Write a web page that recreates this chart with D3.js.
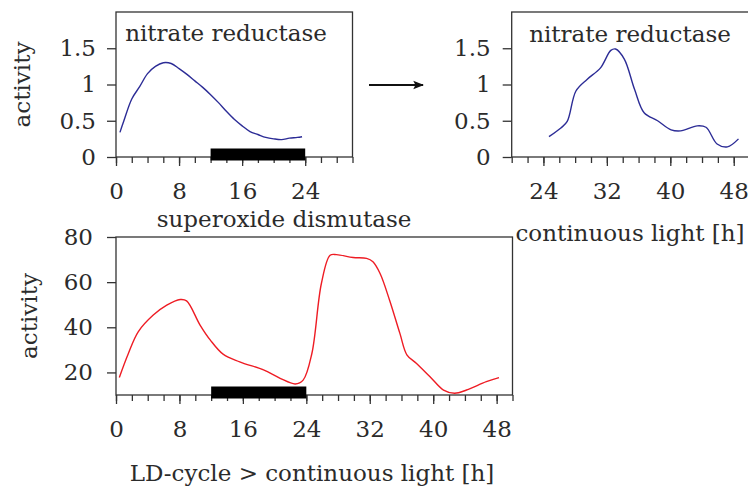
<!DOCTYPE html>
<html>
<head>
<meta charset="utf-8">
<script src="https://cdn.jsdelivr.net/npm/d3@7"></script>
<style>
body{margin:0;background:#fff;}
text{font-family:"DejaVu Serif",serif;}
</style>
</head>
<body>
<svg id="chart" width="748" height="490"></svg>
<script>
// nitrate reductase, LD-cycle (0-24 h)
var nrHours  = [0.5, 1, 2, 3, 4, 5, 6, 7, 8, 9, 10, 11, 12, 13, 14, 15, 16, 17, 18, 19, 20, 21, 22, 23, 23.6];
var nrValues = [0.34, 0.5, 0.8, 0.97, 1.15, 1.25, 1.3, 1.29, 1.22, 1.14, 1.05, 0.96, 0.86, 0.75, 0.63, 0.52, 0.43, 0.35, 0.31, 0.27, 0.25, 0.24, 0.26, 0.27, 0.28];
// nitrate reductase, continuous light (24-48 h)
var nrContHours  = [24.7, 26.2, 27, 28.1, 29.5, 31.2, 32.5, 33.1, 34.2, 35.5, 36.7, 38.4, 40.1, 41.3, 43.4, 44.5, 45.9, 47.2, 48.6];
var nrContValues = [0.28, 0.4, 0.49, 0.91, 1.07, 1.23, 1.47, 1.49, 1.35, 0.93, 0.61, 0.5, 0.375, 0.36, 0.43, 0.41, 0.18, 0.14, 0.25];
// superoxide dismutase, 0-48 h
var sodHours  = [0.42, 1.56, 2.8, 4.7, 6.4, 8.1, 8.9, 10.6, 11.9, 13.5, 15.6, 18.6, 20.7, 22.6, 23.6, 24.7, 25.9, 27, 27.8, 29.9, 31.6, 32.4, 33.3, 34.5, 35.8, 36.7, 37.9, 39.6, 41.3, 42.7, 44.2, 46.7, 48.3];
var sodValues = [17.8, 28.4, 38, 45.4, 49.8, 52.3, 51.7, 41, 34.3, 28.1, 24.7, 21.1, 17.4, 14.9, 16.6, 28.4, 59.4, 71.9, 72.2, 70.9, 70.5, 69, 63.8, 52, 37.3, 27.7, 24, 18.1, 12.2, 10.8, 12.2, 15.9, 17.7];
var darkPeriod = [12, 24];
var nrTicksY  = [0, 0.5, 1, 1.5];
var sodTicksY = [20, 40, 60, 80];

var axisColor = "#333";
var textColor = "#2b2b2b";
var fontSize = 23;

var svg = d3.select("#chart");

function addText(x, y, str, rotate){
        return svg.append("text")
                .attr("transform", "translate(" + x + "," + y + ")" + (rotate ? " rotate(-90)" : ""))
                .attr("text-anchor", "middle")
                .attr("font-size", fontSize).attr("fill", textColor)
                .text(str);
}

function drawPanel(p){
        var x = d3.scaleLinear().domain(p.xDomain).range([p.left, p.right]);
        var y = d3.scaleLinear().domain(p.yDomain).range([p.bottom, p.top]);
        var g = svg.append("g");

        // frame
        g.append("rect")
                .attr("x", p.left).attr("y", p.top)
                .attr("width", p.right - p.left).attr("height", p.bottom - p.top)
                .attr("fill", "none").attr("stroke", axisColor).attr("stroke-width", 1.3);

        // minor x ticks every 2 h
        var minor = d3.range(p.xDomain[0], p.xDomain[1] + 0.01, 2);
        g.append("g").attr("transform", "translate(0," + p.bottom + ")")
                .call(d3.axisBottom(x).tickValues(minor).tickSize(6).tickFormat(""))
                .call(a => a.select(".domain").remove())
                .call(a => a.selectAll("line").attr("stroke", axisColor).attr("stroke-width", 1.3));
        // major x ticks every 8 h
        var major = minor.filter(d => d % 8 === 0);
        g.append("g").attr("transform", "translate(0," + p.bottom + ")")
                .attr("color", textColor)
                .call(d3.axisBottom(x).tickValues(major).tickSize(9).tickPadding(17).tickFormat(d => d))
                .call(a => a.select(".domain").remove())
                .call(a => a.selectAll("line").attr("stroke", axisColor).attr("stroke-width", 1.3))
                .call(a => a.selectAll("text").attr("font-family", null).attr("font-size", fontSize));
        // y axis
        g.append("g").attr("transform", "translate(" + p.left + ",0)")
                .attr("color", textColor)
                .call(d3.axisLeft(y).tickValues(p.yTicks).tickSize(9).tickPadding(p.yPad).tickFormat(d => d))
                .call(a => a.select(".domain").remove())
                .call(a => a.selectAll("line").attr("stroke", axisColor).attr("stroke-width", 1.3))
                .call(a => a.selectAll("text").attr("font-family", null).attr("font-size", fontSize));

        // dark period bar
        if(p.dark){
                g.append("rect")
                        .attr("x", x(p.dark[0])).attr("y", p.bottom - 8.5)
                        .attr("width", x(p.dark[1]) - x(p.dark[0])).attr("height", 12)
                        .attr("fill", "#000");
        }

        // data line
        var line = d3.line()
                .x((d, i) => x(p.xs[i]))
                .y(d => y(d))
                .curve(d3.curveCatmullRom.alpha(0.5));
        g.append("path")
                .datum(p.ys)
                .attr("d", line)
                .attr("fill", "none")
                .attr("stroke", p.color)
                .attr("stroke-width", 1.4);

        addText(p.titleX, p.titleY, p.title);
        if(p.yLabelX) addText(p.yLabelX, (p.top + p.bottom) / 2, "activity", true);
        if(p.xLabel) addText(p.xLabelX, p.xLabelY, p.xLabel);
}

drawPanel({
        xDomain: [0, 30], yDomain: [0, 2],
        left: 116, right: 352.5, top: 12, bottom: 157,
        yTicks: nrTicksY, yPad: 11,
        xs: nrHours, ys: nrValues, color: "#2c2c96",
        dark: darkPeriod,
        title: "nitrate reductase", titleX: 226, titleY: 41,
        yLabelX: 30
});

drawPanel({
        xDomain: [20, 50], yDomain: [0, 2],
        left: 511.7, right: 749.6, top: 12, bottom: 157,
        yTicks: nrTicksY, yPad: 12,
        xs: nrContHours, ys: nrContValues, color: "#2c2c96",
        title: "nitrate reductase", titleX: 630, titleY: 42,
        xLabel: "continuous light [h]", xLabelX: 630, xLabelY: 241
});

drawPanel({
        xDomain: [0, 50], yDomain: [10, 80],
        left: 116, right: 512.5, top: 237, bottom: 395,
        yTicks: sodTicksY, yPad: 14,
        xs: sodHours, ys: sodValues, color: "#ee1c24",
        dark: darkPeriod,
        title: "superoxide dismutase", titleX: 284, titleY: 227,
        yLabelX: 37,
        xLabel: "LD-cycle > continuous light [h]", xLabelX: 312, xLabelY: 481
});

// arrow between the two top panels
svg.append("defs").append("marker")
        .attr("id", "head").attr("viewBox", "0 0 10 10")
        .attr("refX", 9).attr("refY", 5)
        .attr("markerWidth", 6).attr("markerHeight", 6)
        .attr("markerUnits", "strokeWidth")
        .attr("orient", "auto")
        .append("path").attr("d", "M0,1 L10,5 L0,9 L2,5 Z").attr("fill", "#111");
svg.append("line")
        .attr("x1", 369).attr("y1", 85).attr("x2", 423).attr("y2", 85)
        .attr("stroke", "#111").attr("stroke-width", 1.8)
        .attr("marker-end", "url(#head)");
</script>
</body>
</html>
